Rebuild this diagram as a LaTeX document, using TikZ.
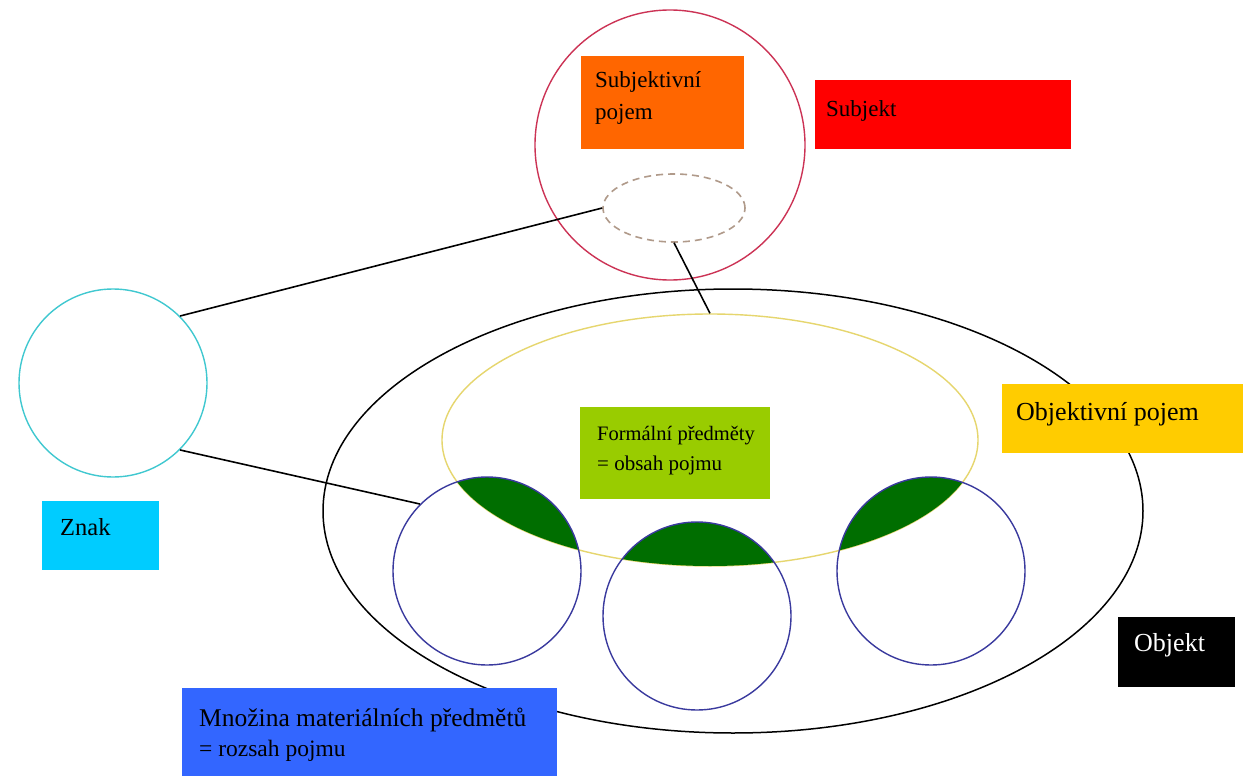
\documentclass[tikz,border=0pt]{standalone}
\usepackage{fontspec}
\setmainfont{Liberation Serif}
\usetikzlibrary{shapes.geometric}
\definecolor{cOrange}{HTML}{FF6600}
\definecolor{cRed}{HTML}{FF0000}
\definecolor{cCyanBox}{HTML}{00CCFF}
\definecolor{cGreenBox}{HTML}{99CC00}
\definecolor{cGold}{HTML}{FFCC00}
\definecolor{cBlueBox}{HTML}{3366FF}
\definecolor{cCap}{HTML}{006E00}
\definecolor{cRing}{HTML}{3A3A9E}
\definecolor{cCyanRing}{HTML}{40C8D0}
\definecolor{cRedRing}{HTML}{CC3355}
\definecolor{cYellow}{HTML}{E6D66E}
\definecolor{cDash}{HTML}{B09A8A}
\begin{document}
\begin{tikzpicture}[x=1pt,y=-1pt,
  box/.style={rectangle, draw=none, inner sep=0pt, anchor=north west},
  lbl/.style={anchor=base west, inner sep=0pt, font=\fontsize{23}{30}\selectfont},
  ring/.style={circle, inner sep=0pt, minimum size=188pt, line width=1.4pt, draw=cRing},
  conn/.style={draw=black, line width=1.6pt}]
\useasboundingbox[fill=white] (0,0) rectangle (1243,776);
% outer object ellipse
\node[ellipse, draw=black, line width=1.5pt, inner sep=0pt, minimum width=820pt, minimum height=444pt] (objell) at (733,511) {};
% objective concept ellipse
\node[ellipse, draw=cYellow, line width=1.4pt, inner sep=0pt, minimum width=536pt, minimum height=252pt] (yell) at (710,440) {};
% blue circle centres
\coordinate (c1) at (487,571);
\coordinate (c2) at (697,616);
\coordinate (c3) at (931,571);
% green caps
\begin{scope}
  \clip (yell.center) ellipse [x radius=268, y radius=126];
  \fill[cCap] (c1) circle [radius=94];
  \fill[cCap] (c2) circle [radius=94];
  \fill[cCap] (c3) circle [radius=94];
\end{scope}
\node[ring] (b1) at (c1) {};
\node[ring] (b2) at (c2) {};
\node[ring] (b3) at (c3) {};
% subject circle and dashed ellipse
\node[circle, draw=cRedRing, line width=1.4pt, inner sep=0pt, minimum size=270pt] (subjc) at (670,145) {};
\node[ellipse, draw=cDash, dash pattern=on 7pt off 5pt, line width=1.6pt, inner sep=0pt, minimum width=142pt, minimum height=68pt] (dashell) at (674,208) {};
% sign circle
\node[circle, draw=cCyanRing, line width=1.4pt, inner sep=0pt, minimum size=188pt] (cyanc) at (113,383) {};
% connectors
\draw[conn] (cyanc.45) -- (dashell.west);
\draw[conn] (cyanc.-45) -- (b1.135);
\draw[conn] (dashell.south) -- (yell.north);
% boxes
\node[box, fill=cOrange, minimum width=163pt, minimum height=93pt] (orbox) at (581,56) {};
\node[box, fill=cRed, minimum width=256pt, minimum height=69pt] (redbox) at (815,80) {};
\node[box, fill=cCyanBox, minimum width=117pt, minimum height=69pt] (cybox) at (42,501) {};
\node[box, fill=cGreenBox, minimum width=190pt, minimum height=92pt] (grbox) at (580,407) {};
\node[box, fill=cGold, minimum width=241pt, minimum height=69pt] (gdbox) at (1002,384) {};
\node[box, fill=black, minimum width=117pt, minimum height=70pt] (bkbox) at (1118,617) {};
\node[box, fill=cBlueBox, minimum width=375pt, minimum height=88pt] (blbox) at (182,688) {};
% labels
\node[lbl] (t1) at (595,88) {Subjektivní};
\node[lbl] (t2) at (595,119) {pojem};
\node[lbl] (t3) at (826,117) {Subjekt};
\node[lbl, font=\fontsize{24.5}{30}\selectfont] (t4) at (60,535) {Znak};
\node[lbl, font=\fontsize{20.5}{28}\selectfont] (t5) at (597,440) {Formální předměty};
\node[lbl, font=\fontsize{21}{28}\selectfont] (t6) at (597,470) {= obsah pojmu};
\node[lbl, font=\fontsize{26}{30}\selectfont] (t7) at (1016,420) {Objektivní pojem};
\node[lbl, text=white, font=\fontsize{26}{30}\selectfont] (t8) at (1134,651) {Objekt};
\node[lbl, font=\fontsize{25.5}{30}\selectfont] (t9) at (199,726) {Množina materiálních předmětů};
\node[lbl, font=\fontsize{23.5}{30}\selectfont] (t10) at (199,756) {= rozsah pojmu};
\end{tikzpicture}
\end{document}
